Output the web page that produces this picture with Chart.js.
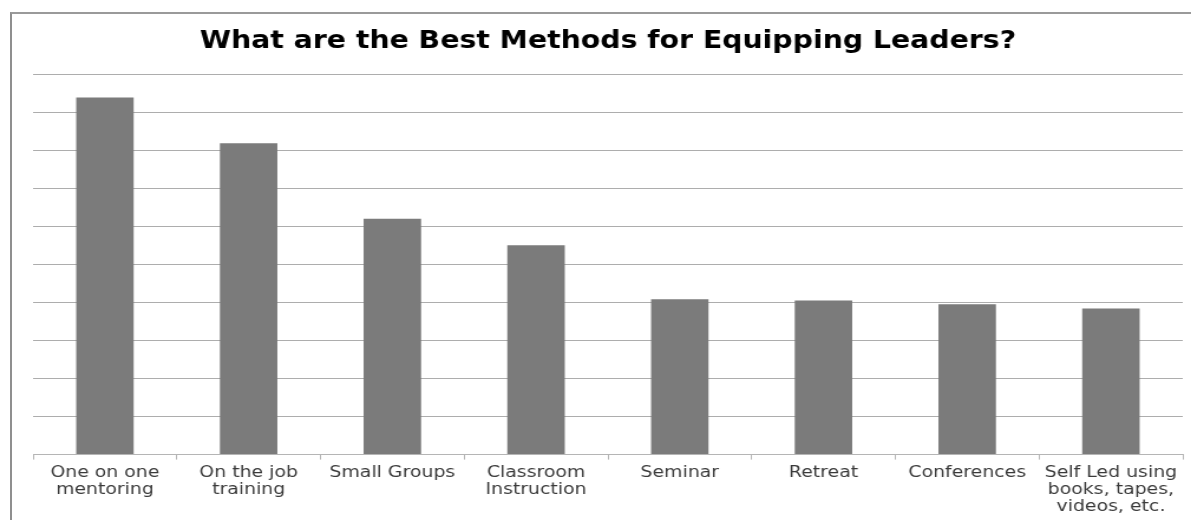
<!DOCTYPE html>
<html>
<head>
<meta charset="utf-8">
<title>Best Methods for Equipping Leaders</title>
<script src="https://cdn.jsdelivr.net/npm/chart.js@4.4.1/dist/chart.umd.min.js"></script>
<style>
  body { margin: 0; background: #fff; overflow: hidden; }
  #frame {
    position: absolute; left: 10px; top: 12px; width: 1200px; height: 540px;
    border-left: 2px solid #8f8f8f; border-top: 2px solid #9a9a9a;
  }
  /* chart is drawn narrower and stretched out horizontally */
  #wrap {
    position: absolute; left: 0; top: 0; width: 1009px; height: 520px;
    transform: scaleX(1.1804); transform-origin: 0 0;
  }
</style>
</head>
<body>
<div id="frame"></div>
<div id="wrap"><canvas id="methodsChart" width="1009" height="520"></canvas></div>
<script>
// Methods and their scores
const methods = [
  ['One on one', 'mentoring'],
  ['On the job', 'training'],
  'Small Groups',
  ['Classroom', 'Instruction'],
  'Seminar',
  'Retreat',
  'Conferences',
  ['Self Led using', 'books, tapes,', 'videos, etc.']
];
const scores = [9.40, 8.20, 6.21, 5.51, 4.09, 4.06, 3.96, 3.85];
const scaleMax = 10;
const scaleStep = 1;

const methodsConfig = {
  type: 'bar',
  data: {
    labels: methods,
    datasets: [{
      label: 'Score',
      data: scores,
      backgroundColor: '#7b7b7b',
      borderWidth: 0,
      categoryPercentage: 1,
      barPercentage: 0.4
    }]
  },
  options: {
    responsive: false,
    animation: false,
    devicePixelRatio: 1,
    layout: {
      padding: { left: 28, right: 7, top: 0, bottom: 0 }
    },
    plugins: {
      legend: { display: false },
      tooltip: { enabled: false },
      title: {
        display: true,
        text: 'What are the Best Methods for Equipping Leaders?',
        color: '#000',
        font: { family: 'DejaVu Sans', size: 24, weight: 'bold' },
        padding: { top: 27, bottom: 19 }
      }
    },
    scales: {
      x: {
        border: { display: true, color: '#b5b5b5', width: 1 },
        grid: {
          offset: true,
          drawOnChartArea: false,
          drawTicks: true,
          tickLength: 5,
          color: '#b5b5b5'
        },
        ticks: {
          color: '#3a3a3a',
          autoSkip: false,
          maxRotation: 0,
          padding: 5,
          font: { family: 'DejaVu Sans', size: 16, lineHeight: 1.05 }
        }
      },
      y: {
        min: 0,
        max: scaleMax,
        border: { display: false },
        grid: { color: '#adadad', drawTicks: false },
        ticks: { display: false, stepSize: scaleStep }
      }
    }
  }
};

new Chart(document.getElementById('methodsChart'), methodsConfig);
</script>
</body>
</html>
